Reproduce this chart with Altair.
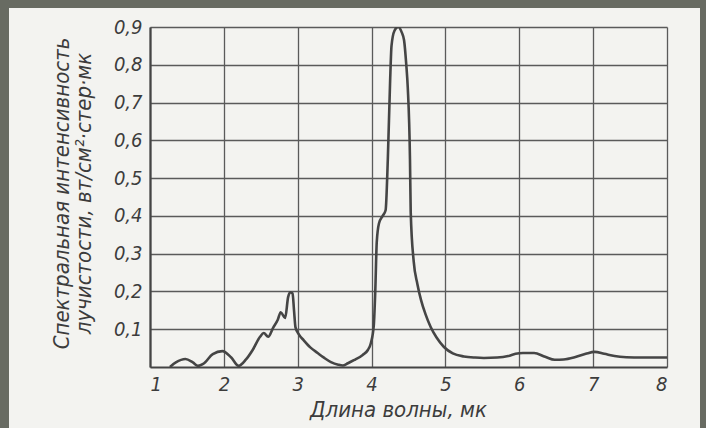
import altair as alt
import pandas as pd

# Curve (wavelength in micron, intensity)
wavelength = [1.27, 1.35, 1.48, 1.58, 1.65, 1.72, 1.85, 1.98, 2.10, 2.20,
              2.30, 2.39, 2.49, 2.54, 2.60, 2.67, 2.73, 2.77, 2.83, 2.87,
              2.90, 2.93, 2.95, 2.97, 3.02, 3.08, 3.17, 3.27, 3.36, 3.45,
              3.55, 3.61, 3.68, 3.76, 3.88, 3.95, 3.99, 4.03, 4.05, 4.07,
              4.10, 4.15, 4.19, 4.22, 4.25, 4.27, 4.31, 4.36, 4.41, 4.44,
              4.47, 4.49, 4.52, 4.53, 4.57, 4.62, 4.67, 4.73, 4.80, 4.88,
              4.98, 5.10, 5.25, 5.40, 5.52, 5.70, 5.85, 5.95, 6.05, 6.20,
              6.35, 6.48, 6.60, 6.75, 6.90, 7.02, 7.15, 7.29, 7.45, 7.66, 8.00]
intensity = [0.000, 0.012, 0.021, 0.012, 0.003, 0.008, 0.034, 0.042, 0.025, 0.003,
             0.020, 0.045, 0.080, 0.090, 0.080, 0.105, 0.125, 0.145, 0.130, 0.185,
             0.198, 0.195, 0.150, 0.105, 0.085, 0.071, 0.052, 0.037, 0.024, 0.013,
             0.006, 0.004, 0.010, 0.018, 0.032, 0.045, 0.063, 0.110, 0.200, 0.330,
             0.380, 0.400, 0.415, 0.550, 0.750, 0.850, 0.890, 0.900, 0.885, 0.865,
             0.800, 0.740, 0.550, 0.410, 0.280, 0.220, 0.177, 0.140, 0.106, 0.078,
             0.053, 0.036, 0.028, 0.025, 0.024, 0.025, 0.029, 0.035, 0.037, 0.037,
             0.027, 0.019, 0.020, 0.026, 0.035, 0.040, 0.035, 0.029, 0.026, 0.025, 0.025]

x_ticks = [1, 2, 3, 4, 5, 6, 7, 8]
y_ticks = [0.1, 0.2, 0.3, 0.4, 0.5, 0.6, 0.7, 0.8, 0.9]

x_title = "Длина волны, мк"
y_title = ["Спектральная интенсивность", "лучистости, вт/см²·стер·мк"]

df = pd.DataFrame({"x": wavelength, "y": intensity})

FONT = "DejaVu Sans Condensed, Liberation Sans Narrow, DejaVu Sans"
INK = "#3c3c3c"
PAPER = "#f3f3f0"
FRAME = "#686b62"

W, H = 517, 340
PL, PT = 150, 27

curve = alt.Chart(df).mark_line(
    interpolate="monotone", color="#454545", strokeWidth=2.6, clip=True
).encode(
    x=alt.X("x:Q", scale=alt.Scale(domain=[1, 8], nice=False, zero=False),
            axis=alt.Axis(values=x_ticks, title=x_title, format="d",
                          grid=True, gridColor="#5a5a5a", gridWidth=1.3, gridOpacity=1,
                          domainColor="#444", domainWidth=2.2, ticks=False,
                          labelFont=FONT, labelFontStyle="italic", labelFontSize=20,
                          labelColor=INK, labelPadding=7,
                          titleFont=FONT, titleFontStyle="italic", titleFontSize=22,
                          titleFontWeight="normal", titleColor=INK, titlePadding=5,
                          titleX=248)),
    y=alt.Y("y:Q", scale=alt.Scale(domain=[0, 0.9], nice=False),
            axis=alt.Axis(values=y_ticks, title=y_title,
                          labelExpr="replace(format(datum.value, '.1f'), '.', ',')",
                          grid=True, gridColor="#5a5a5a", gridWidth=1.3, gridOpacity=1,
                          domainColor="#444", domainWidth=2.2, ticks=False,
                          labelFont=FONT, labelFontStyle="italic", labelFontSize=20,
                          labelColor=INK, labelPadding=8,
                          titleFont=FONT, titleFontStyle="italic", titleFontSize=22,
                          titleFontWeight="normal", titleColor=INK,
                          titleLineHeight=22, titleX=-99, titleY=H / 2 - 4,
                          titleBaseline="top", titleAlign="center")),
)

# Dark scanner frame around the paper (decoration, in pixels)
edge = pd.DataFrame({"k": [0]})
left_strip = alt.Chart(edge).mark_rect(color=FRAME).encode(
    x=alt.value(-PL), x2=alt.value(-PL + 9), y=alt.value(-PT), y2=alt.value(428 - PT))
top_strip = alt.Chart(edge).mark_rect(color=FRAME).encode(
    x=alt.value(-PL), x2=alt.value(706 - PL), y=alt.value(-PT), y2=alt.value(-PT + 8))
right_strip = alt.Chart(edge).mark_rect(color=FRAME).encode(
    x=alt.value(700 - PL), x2=alt.value(706 - PL), y=alt.value(-PT), y2=alt.value(428 - PT))

chart = alt.layer(curve, left_strip, top_strip, right_strip).properties(
    width=W, height=H,
    background=PAPER,
    padding={"left": PL, "top": PT, "right": 706 - PL - W, "bottom": 428 - PT - H},
    autosize=alt.AutoSizeParams(type="none"),
).configure_view(stroke=None)

chart.save("out.html", embed_options={"renderer": "svg", "actions": False})
